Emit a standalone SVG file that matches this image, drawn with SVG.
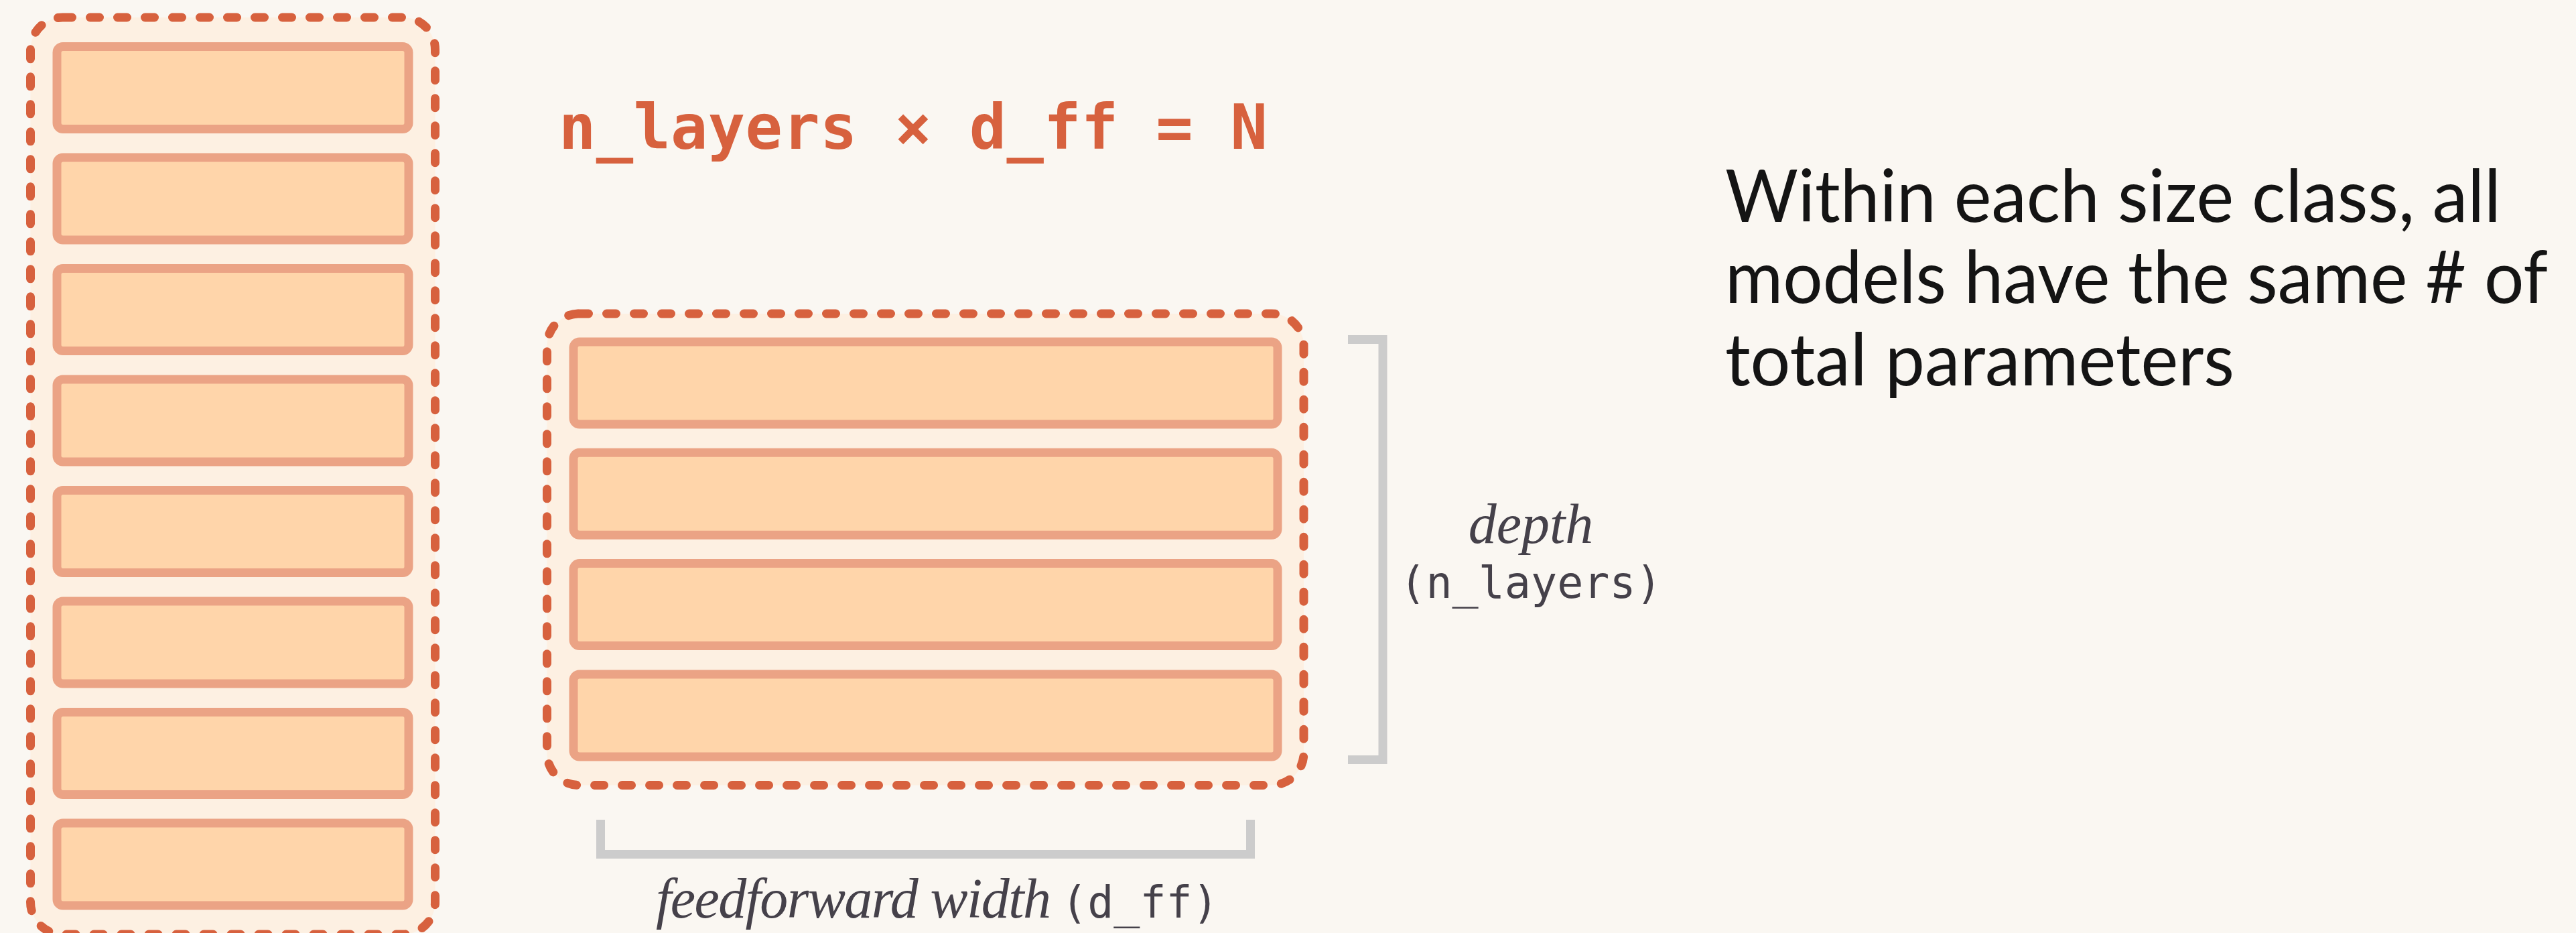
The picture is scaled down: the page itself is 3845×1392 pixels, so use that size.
<svg xmlns="http://www.w3.org/2000/svg" width="3845" height="1392" viewBox="0 0 3845 1392">
  <style>
    .frame { fill: #FDF0E2; stroke: #D7613E; stroke-width: 13; stroke-dasharray: 14 27; stroke-linecap: round; }
    .block { fill: #FFD5AA; stroke: #EBA385; stroke-width: 13; }
    .bracket { fill: none; stroke: #CCCCCC; stroke-width: 13; stroke-linejoin: miter; }
    .eq { font-family: "DejaVu Sans Mono", "Liberation Mono", monospace; font-weight: bold; font-size: 92px; fill: #D7613E; }
    .ital { font-family: "Liberation Serif", serif; font-style: italic; font-size: 84px; fill: #45414A; }
    .mono { font-family: "DejaVu Sans Mono", "Liberation Mono", monospace; font-size: 65px; fill: #45414A; }
    .note { font-family: "Lato", "Noto Sans", sans-serif; font-size: 108px; fill: #141414; }
  </style>
  <rect width="3845" height="1392" fill="#FAF7F2"/>

  <g id="deep-model">
    <rect class="frame" x="45.5" y="26" width="604" height="1368" rx="48"/>
    <rect class="block" x="85" y="69.5" width="525" height="123" rx="9"/>
    <rect class="block" x="85" y="235" width="525" height="123" rx="9"/>
    <rect class="block" x="85" y="400.5" width="525" height="123" rx="9"/>
    <rect class="block" x="85" y="566" width="525" height="123" rx="9"/>
    <rect class="block" x="85" y="731.5" width="525" height="123" rx="9"/>
    <rect class="block" x="85" y="897" width="525" height="123" rx="9"/>
    <rect class="block" x="85" y="1062.5" width="525" height="123" rx="9"/>
    <rect class="block" x="85" y="1228" width="525" height="123" rx="9"/>
  </g>

  <g id="wide-model">
    <rect class="frame" x="816.5" y="468" width="1129.5" height="703.5" rx="48"/>
    <rect class="block" x="856" y="510" width="1051" height="123" rx="9"/>
    <rect class="block" x="856" y="675.3" width="1051" height="123" rx="9"/>
    <rect class="block" x="856" y="840.6" width="1051" height="123" rx="9"/>
    <rect class="block" x="856" y="1006" width="1051" height="123" rx="9"/>
  </g>

  <g id="equation">
    <text class="eq" x="834" y="222" textLength="1058">n_layers × d_ff = N</text>
  </g>

  <g id="connectors">
    <path class="bracket" d="M2012 506.5 H2064 V1133.5 H2012"/>
    <path class="bracket" d="M896.5 1223 V1274.5 H1866.5 V1223"/>
  </g>

  <g id="depth-label">
    <text class="ital" x="2285" y="810" text-anchor="middle">depth</text>
    <text class="mono" x="2285" y="892" text-anchor="middle">(n_layers)</text>
  </g>

  <g id="width-label">
    <text class="ital" x="979" y="1369" textLength="590">feedforward width</text>
    <text class="mono" x="1584" y="1369">(d_ff)</text>
  </g>

  <g id="note">
    <text class="note" x="2575" y="331" textLength="1158" lengthAdjust="spacingAndGlyphs">Within each size class, all</text>
    <text class="note" x="2575" y="452" textLength="1228" lengthAdjust="spacingAndGlyphs">models have the same # of</text>
    <text class="note" x="2575" y="575" textLength="760" lengthAdjust="spacingAndGlyphs">total parameters</text>
  </g>
</svg>
